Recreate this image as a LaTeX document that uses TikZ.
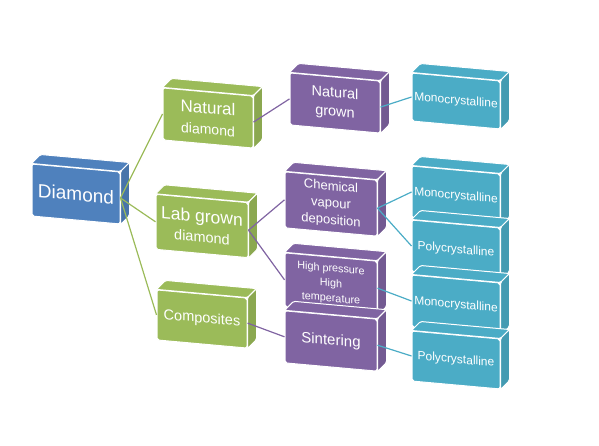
\documentclass[tikz,border=0pt]{standalone}
\usepackage{fontspec}
\setmainfont{Liberation Sans}
\usetikzlibrary{positioning}
\definecolor{boxBlue}{RGB}{79,129,189}
\definecolor{boxGreen}{RGB}{155,187,89}
\definecolor{boxPurple}{RGB}{128,100,162}
\definecolor{boxTeal}{RGB}{75,172,198}

\begin{document}
\begin{tikzpicture}[x=1pt,y=1pt,
        box/.style={fill=#1,draw=white,line width=1pt,rounded corners=2pt,text=white,align=center,inner sep=1pt,yslant=-0.09},
        link/.style={line width=1.2pt,draw=#1}
      ]
        \useasboundingbox (0,0) rectangle (599,445);

        \node[box=boxBlue,minimum width=88,minimum height=52,font=\fontsize{19}{22}\selectfont] (dia) at (76,251) {Diamond};

        \node[box=boxGreen,minimum width=90,minimum height=52,font=\fontsize{14}{21}\selectfont] (natd) at (208,327) {{\fontsize{17}{21}\selectfont Natural}\\diamond};
        \node[box=boxGreen,minimum width=92,minimum height=55,font=\fontsize{14.5}{20}\selectfont] (lab) at (202,219) {{\fontsize{17.5}{20}\selectfont Lab grown}\\diamond};
        \node[box=boxGreen,minimum width=90,minimum height=50,font=\fontsize{14.5}{17}\selectfont] (comp) at (202,126) {Composites};

        \node[box=boxPurple,minimum width=90,minimum height=52,font=\fontsize{14.5}{19}\selectfont] (natg) at (335,342) {Natural\\grown};
        \node[box=boxPurple,minimum width=92,minimum height=56,font=\fontsize{13}{17}\selectfont] (cvd) at (331,241) {Chemical\\vapour\\deposition};
        \node[box=boxPurple,minimum width=92,minimum height=54,font=\fontsize{10.8}{15}\selectfont] (hpht) at (331,161) {High pressure\\High\\temperature};
        \node[box=boxPurple,minimum width=92,minimum height=52,font=\fontsize{15}{18}\selectfont] (sint) at (331,104) {Sintering};

        \node[box=boxTeal,minimum width=88,minimum height=48,font=\fontsize{12}{14}\selectfont] (mono1) at (456,344) {Monocrystalline};
        \node[box=boxTeal,minimum width=88,minimum height=52,font=\fontsize{12}{14}\selectfont] (mono2) at (456,249) {Monocrystalline};
        \node[box=boxTeal,minimum width=88,minimum height=52,font=\fontsize{12}{14}\selectfont] (poly1) at (456,195) {Polycrystalline};
        \node[box=boxTeal,minimum width=88,minimum height=52,font=\fontsize{12}{14}\selectfont] (mono3) at (456,140) {Monocrystalline};
        \node[box=boxTeal,minimum width=88,minimum height=50,font=\fontsize{12}{14}\selectfont] (poly2) at (456,85) {Polycrystalline};

        % top and side faces
        \foreach \n/\c in {dia/boxBlue,natd/boxGreen,lab/boxGreen,comp/boxGreen,natg/boxPurple,cvd/boxPurple,hpht/boxPurple,sint/boxPurple,mono1/boxTeal,mono2/boxTeal,poly1/boxTeal,mono3/boxTeal,poly2/boxTeal}{
          \filldraw[fill=\c,draw=white,line width=1pt,rounded corners=1.5pt] (\n.north west) -- ++(9,9) -- ([shift={(9,9)}]\n.north east) -- (\n.north east) -- cycle;
          \filldraw[fill=\c!90!black,draw=white,line width=1pt,rounded corners=1.5pt] (\n.north east) -- ++(9,9) -- ([shift={(9,9)}]\n.south east) -- (\n.south east) -- cycle;
        }

        \draw[link=boxGreen] (dia.east) -- (natd.west);
        \draw[link=boxGreen] (dia.east) -- (lab.west);
        \draw[link=boxGreen] (dia.east) -- (comp.west);
        \draw[link=boxPurple] (natd.east) -- (natg.west);
        \draw[link=boxPurple] (lab.east) -- (cvd.west);
        \draw[link=boxPurple] (lab.east) -- (hpht.west);
        \draw[link=boxPurple] (comp.east) -- (sint.west);
        \draw[link=boxTeal] (natg.east) -- (mono1.west);
        \draw[link=boxTeal] (cvd.east) -- (mono2.west);
        \draw[link=boxTeal] (cvd.east) -- (poly1.west);
        \draw[link=boxTeal] (hpht.east) -- (mono3.west);
        \draw[link=boxTeal] (sint.east) -- (poly2.west);
      \end{tikzpicture}
\end{document}
